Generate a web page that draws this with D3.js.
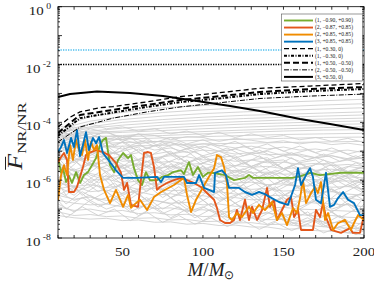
<!DOCTYPE html>
<html>
<head>
<meta charset="utf-8">
<script src="https://d3js.org/d3.v7.min.js"></script>
<style>
  body { margin: 0; background: #fff; }
  svg { display: block; font-family: "Liberation Serif", serif; }
</style>
</head>
<body>
<div id="chart"></div>
<script>
// ---- data ----
const xTickLabels = [50, 100, 150, 200];
const yLabelExp = [0, -2, -4, -6, -8];

const legendLabels = ["(1, −0.90, +0.90)", "(2, −0.87, +0.85)", "(2, +0.85, +0.85)", "(3, +0.85, +0.85)",
  "(1, +0.30, 0)", "(1, −0.30, 0)", "(1, +0.50, −0.50)", "(2, −0.50, −0.50)", "(3, +0.50, 0)"];

// horizontal reference levels
const cyanLevel = 0.0316;
const blackLevel = 0.01;

// grey background runs
const smoothM = [10, 20, 30, 50, 75, 100, 125, 150, 175, 200];
const greySmooth = [
  [5e-5, 1e-4, 1.6e-4, 2.2e-4, 3.2e-4, 3.8e-4, 4.5e-4, 5e-4, 5.6e-4, 6.3e-4],
  [4e-5, 8e-5, 1.1e-4, 1.6e-4, 2.2e-4, 2.7e-4, 3.2e-4, 3.5e-4, 4e-4, 4.4e-4],
  [3.2e-5, 6.3e-5, 9e-5, 1.25e-4, 1.65e-4, 2e-4, 2.3e-4, 2.6e-4, 2.9e-4, 3.2e-4],
  [4e-5, 5.6e-5, 7e-5, 1e-4, 1.25e-4, 1.5e-4, 1.75e-4, 1.9e-4, 2.1e-4, 2.3e-4],
  [2.5e-5, 5e-5, 6.3e-5, 8e-5, 1e-4, 1.2e-4, 1.35e-4, 1.5e-4, 1.65e-4, 1.8e-4],
  [3.2e-5, 4.5e-5, 5e-5, 6.3e-5, 8e-5, 9.3e-5, 1.07e-4, 1.2e-4, 1.3e-4, 1.4e-4],
  [2e-5, 4e-5, 4.5e-5, 5e-5, 6.3e-5, 7.6e-5, 8.7e-5, 9.5e-5, 1.05e-4, 1.12e-4],
  [2.5e-5, 3.2e-5, 4e-5, 4.5e-5, 5.2e-5, 6e-5, 6.8e-5, 7.6e-5, 8.3e-5, 8.9e-5],
  [1.6e-5, 2.5e-5, 3.2e-5, 3.5e-5, 4.2e-5, 4.8e-5, 5.4e-5, 6e-5, 6.6e-5, 7e-5],
  [2e-5, 2.8e-5, 3.2e-5, 3.2e-5, 3.5e-5, 4e-5, 4.5e-5, 5e-5, 5.4e-5, 5.6e-5],
  [1.5e-5, 2e-5, 2.3e-5, 2.6e-5, 2.9e-5, 3.2e-5, 3.5e-5, 3.8e-5, 4e-5, 4.2e-5],
  [1.2e-5, 1.6e-5, 1.8e-5, 2e-5, 2.2e-5, 2.4e-5, 2.6e-5, 2.8e-5, 3e-5, 3.1e-5],
  [1e-5, 1.3e-5, 1.4e-5, 1.5e-5, 1.6e-5, 1.8e-5, 1.9e-5, 2e-5, 2.1e-5, 2.2e-5]
];

const greyM = [10, 20, 30, 40, 50, 60, 70, 80, 90, 100, 110, 120, 130, 140, 150, 160, 170, 180, 190, 200];
const greyNoisy = [
  [8e-5, 5e-5, 9e-5, 6e-5, 7e-5, 5e-5, 6e-5, 4e-5, 5e-5, 3.5e-5, 4.5e-5, 3e-5, 4e-5, 3e-5, 3.5e-5, 2.5e-5, 3e-5, 2.2e-5, 2.8e-5, 2e-5],
  [4e-5, 7e-5, 3e-5, 5e-5, 2.5e-5, 4e-5, 2e-5, 3e-5, 1.8e-5, 2.5e-5, 1.5e-5, 2.2e-5, 1.2e-5, 1.8e-5, 1e-5, 1.5e-5, 9e-6, 1.3e-5, 8e-6, 1.1e-5],
  [2.5e-5, 1.2e-5, 3e-5, 1.5e-5, 2e-5, 1e-5, 1.6e-5, 8e-6, 1.2e-5, 7e-6, 1e-5, 6e-6, 8e-6, 5e-6, 7e-6, 4.5e-6, 6e-6, 4e-6, 5e-6, 3.5e-6],
  [1.5e-5, 2.5e-5, 8e-6, 1.6e-5, 6e-6, 1.2e-5, 5e-6, 9e-6, 4e-6, 7e-6, 3.5e-6, 6e-6, 3e-6, 5e-6, 2.5e-6, 4e-6, 2e-6, 3.5e-6, 1.8e-6, 3e-6],
  [8e-6, 4e-6, 1e-5, 5e-6, 7e-6, 3e-6, 6e-6, 2.5e-6, 5e-6, 2e-6, 4e-6, 1.8e-6, 3e-6, 1.5e-6, 2.5e-6, 1.2e-6, 2e-6, 1e-6, 1.6e-6, 9e-7],
  [5e-6, 9e-6, 3e-6, 6e-6, 2.5e-6, 4e-6, 2e-6, 3.5e-6, 1.5e-6, 3e-6, 1.2e-6, 2.2e-6, 1e-6, 1.8e-6, 8e-7, 1.5e-6, 7e-7, 1.2e-6, 6e-7, 1e-6],
  [3e-6, 1.5e-6, 4e-6, 2e-6, 3e-6, 1.2e-6, 2.5e-6, 1e-6, 2e-6, 8e-7, 1.6e-6, 7e-7, 1.3e-6, 6e-7, 1e-6, 5e-7, 9e-7, 4e-7, 7e-7, 3.5e-7],
  [1.2e-6, 2.5e-6, 8e-7, 2e-6, 7e-7, 1.5e-6, 6e-7, 1.2e-6, 5e-7, 1e-6, 4e-7, 8e-7, 3.5e-7, 7e-7, 3e-7, 6e-7, 2.5e-7, 5e-7, 2e-7, 4e-7],
  [6e-7, 3e-7, 9e-7, 4e-7, 8e-7, 3e-7, 6e-7, 2.5e-7, 5e-7, 2e-7, 4e-7, 1.6e-7, 3e-7, 1.3e-7, 2.5e-7, 1e-7, 2e-7, 8e-8, 1.6e-7, 7e-8],
  [3e-7, 6e-7, 2e-7, 4e-7, 1.5e-7, 3.5e-7, 1.2e-7, 2.5e-7, 1e-7, 2e-7, 8e-8, 1.6e-7, 7e-8, 1.3e-7, 5e-8, 1e-7, 4e-8, 8e-8, 3.5e-8, 6e-8],
  [1.5e-7, 8e-8, 2e-7, 1e-7, 1.5e-7, 6e-8, 1.2e-7, 5e-8, 1e-7, 4e-8, 8e-8, 3.5e-8, 6e-8, 3e-8, 5e-8, 2.5e-8, 4e-8, 2e-8, 3e-8, 1.8e-8],
  [2e-5, 1e-5, 1.2e-5, 6e-6, 1.5e-5, 5e-6, 8e-6, 1e-5, 4e-6, 6e-6, 8e-6, 3e-6, 5e-6, 6e-6, 2.5e-6, 4e-6, 5e-6, 2e-6, 3e-6, 2.5e-6],
  [2e-6, 5e-6, 1.5e-6, 1e-6, 3e-6, 8e-7, 2e-6, 1.5e-6, 6e-7, 1.2e-6, 9e-7, 5e-7, 1e-6, 4e-7, 7e-7, 6e-7, 3e-7, 5e-7, 2.5e-7, 3.5e-7],
  [1e-6, 4e-7, 6e-7, 1.5e-6, 3e-7, 5e-7, 8e-7, 2.5e-7, 4e-7, 6e-7, 2e-7, 3e-7, 4e-7, 1.5e-7, 2.5e-7, 1.2e-7, 2e-7, 1e-7, 1.5e-7, 8e-8],
  [6e-5, 3e-5, 4e-5, 2e-5, 3e-5, 2.5e-5, 1.5e-5, 2e-5, 1.2e-5, 1.5e-5, 1e-5, 1.2e-5, 8e-6, 1e-5, 7e-6, 8e-6, 6e-6, 7e-6, 5e-6, 6e-6],
  [4e-6, 2e-6, 2.5e-6, 6e-6, 1.5e-6, 2e-6, 4e-6, 1e-6, 1.5e-6, 3e-6, 8e-7, 1.2e-6, 2e-6, 6e-7, 1e-6, 1.5e-6, 5e-7, 8e-7, 1.2e-6, 4e-7],
  [4e-7, 2e-7, 3e-7, 1.5e-7, 3e-7, 1e-7, 2e-7, 1.5e-7, 8e-8, 1.2e-7, 6e-8, 1e-7, 5e-8, 8e-8, 4e-8, 3e-8, 5e-8, 2.5e-8, 1.5e-8, 2e-8],
  [1.2e-5, 6e-6, 2e-5, 8e-6, 1e-5, 1.4e-5, 5e-6, 8e-6, 1e-5, 4e-6, 6e-6, 7e-6, 3e-6, 4.5e-6, 5e-6, 2.5e-6, 3.5e-6, 4e-6, 2e-6, 3e-6]
];

// gently wandering grey runs on the same M grid
const greyWander = [
  [5e-5, 3.5e-5, 6e-5, 4.5e-5, 3e-5, 4e-5, 3.5e-5, 2.5e-5, 3.2e-5, 3e-5, 2.2e-5, 2.8e-5, 2.4e-5, 2e-5, 2.3e-5, 1.8e-5, 2.1e-5, 1.7e-5, 1.9e-5, 1.6e-5],
  [3e-5, 4e-5, 2.2e-5, 2.8e-5, 2.5e-5, 1.8e-5, 2.2e-5, 2e-5, 1.5e-5, 1.8e-5, 1.6e-5, 1.3e-5, 1.5e-5, 1.2e-5, 1.4e-5, 1.1e-5, 1.2e-5, 1e-5, 1.1e-5, 9e-6],
  [2e-5, 1.4e-5, 2.5e-5, 1.5e-5, 1.2e-5, 1.6e-5, 1.1e-5, 1.3e-5, 9e-6, 1.1e-5, 1e-5, 8e-6, 9e-6, 7.5e-6, 8e-6, 7e-6, 6e-6, 7e-6, 5.5e-6, 6e-6],
  [1.2e-5, 1.6e-5, 9e-6, 1e-5, 7e-6, 9e-6, 6e-6, 7e-6, 6.5e-6, 5e-6, 5.5e-6, 4.5e-6, 5e-6, 4e-6, 4.2e-6, 3.5e-6, 3.8e-6, 3.2e-6, 3.5e-6, 3e-6],
  [8e-6, 5e-6, 6e-6, 7e-6, 4.5e-6, 5e-6, 4e-6, 4.5e-6, 3.5e-6, 3.8e-6, 3e-6, 3.2e-6, 2.8e-6, 3e-6, 2.5e-6, 2.7e-6, 2.2e-6, 2.4e-6, 2e-6, 2.2e-6],
  [5e-6, 6e-6, 3.5e-6, 4e-6, 3.2e-6, 3.5e-6, 2.6e-6, 3e-6, 2.4e-6, 2.5e-6, 2e-6, 2.2e-6, 1.8e-6, 1.9e-6, 1.6e-6, 1.7e-6, 1.4e-6, 1.5e-6, 1.3e-6, 1.2e-6],
  [3e-6, 2.2e-6, 3.5e-6, 2.5e-6, 2e-6, 2.4e-6, 1.8e-6, 2e-6, 1.5e-6, 1.7e-6, 1.3e-6, 1.5e-6, 1.2e-6, 1.3e-6, 1.1e-6, 1e-6, 1.05e-6, 9e-7, 9.5e-7, 8e-7],
  [2e-6, 1.5e-6, 1.7e-6, 1.3e-6, 1.5e-6, 1.1e-6, 1.3e-6, 1e-6, 1.1e-6, 9e-7, 9.5e-7, 8e-7, 8.5e-7, 7e-7, 7.5e-7, 6.3e-7, 6.5e-7, 5.7e-7, 6e-7, 5e-7],
  [1.2e-6, 1.6e-6, 1e-6, 1.1e-6, 8e-7, 9.5e-7, 7e-7, 8e-7, 6.5e-7, 7e-7, 5.5e-7, 6e-7, 4.8e-7, 5.2e-7, 4.2e-7, 4.5e-7, 3.7e-7, 4e-7, 3.3e-7, 3e-7],
  [8e-7, 6e-7, 7e-7, 5.5e-7, 6.5e-7, 4.8e-7, 5.2e-7, 4.3e-7, 4.6e-7, 3.8e-7, 4e-7, 3.3e-7, 3.5e-7, 2.9e-7, 3e-7, 2.6e-7, 2.7e-7, 2.3e-7, 2.4e-7, 2e-7],
  [5e-7, 6.5e-7, 4e-7, 4.5e-7, 3.5e-7, 4e-7, 3e-7, 3.4e-7, 2.7e-7, 2.9e-7, 2.4e-7, 2.5e-7, 2.1e-7, 2.2e-7, 1.8e-7, 1.9e-7, 1.6e-7, 1.5e-7, 1.4e-7, 1.2e-7],
  [3e-7, 2.2e-7, 2.6e-7, 2e-7, 2.3e-7, 1.8e-7, 2e-7, 1.6e-7, 1.7e-7, 1.4e-7, 1.5e-7, 1.25e-7, 1.3e-7, 1.1e-7, 1.15e-7, 1e-7, 9.5e-8, 9e-8, 8.5e-8, 8e-8],
  [2e-7, 1.6e-7, 1.4e-7, 1.5e-7, 1.2e-7, 1.3e-7, 1.05e-7, 1.1e-7, 9e-8, 9.5e-8, 8e-8, 8.5e-8, 7e-8, 7.3e-8, 6.3e-8, 6.5e-8, 5.7e-8, 6e-8, 5.2e-8, 5e-8],
  [1.2e-7, 9e-8, 1e-7, 8e-8, 9e-8, 7e-8, 7.5e-8, 6.3e-8, 6.6e-8, 5.5e-8, 5.8e-8, 4.8e-8, 5e-8, 4.3e-8, 4.4e-8, 3.8e-8, 3.9e-8, 3.4e-8, 3.5e-8, 3e-8],
  [8e-8, 6e-8, 6.5e-8, 5.5e-8, 5.8e-8, 4.8e-8, 5e-8, 4.2e-8, 4.4e-8, 3.7e-8, 3.8e-8, 3.3e-8, 3.4e-8, 2.9e-8, 3e-8, 2.6e-8, 2.6e-8, 2.3e-8, 2.2e-8, 2e-8],
  [6e-8, 5e-8, 4.5e-8, 4.8e-8, 4e-8, 4.2e-8, 3.5e-8, 3.6e-8, 3e-8, 3.2e-8, 2.7e-8, 2.8e-8, 2.4e-8, 2.4e-8, 2e-8, 2.1e-8, 1.8e-8, 1.7e-8, 1.5e-8, 1.3e-8]
];

const greyM2 = [10, 15, 25, 35, 45, 55, 65, 75, 85, 95, 105, 115, 125, 135, 145, 155, 165, 175, 185, 195, 200];
const greyNoisy2 = [
  [3e-5, 6e-5, 2e-5, 4e-5, 1.5e-5, 3e-5, 1.2e-5, 2e-5, 1e-5, 1.6e-5, 8e-6, 1.3e-5, 7e-6, 1.1e-5, 6e-6, 9e-6, 5e-6, 8e-6, 4.5e-6, 7e-6, 5e-6],
  [1e-5, 5e-6, 1.2e-5, 6e-6, 9e-6, 4e-6, 7e-6, 3.5e-6, 6e-6, 3e-6, 5e-6, 2.5e-6, 4e-6, 2e-6, 3.5e-6, 1.8e-6, 3e-6, 1.5e-6, 2.5e-6, 1.3e-6, 2e-6],
  [5e-6, 2e-6, 6e-6, 2.5e-6, 4e-6, 1.8e-6, 3.5e-6, 1.5e-6, 3e-6, 1.2e-6, 2.5e-6, 1e-6, 2e-6, 9e-7, 1.6e-6, 8e-7, 1.4e-6, 7e-7, 1.2e-6, 6e-7, 9e-7],
  [2e-6, 4e-6, 1.2e-6, 3e-6, 1e-6, 2e-6, 8e-7, 1.6e-6, 7e-7, 1.3e-6, 6e-7, 1.1e-6, 5e-7, 9e-7, 4e-7, 8e-7, 3.5e-7, 7e-7, 3e-7, 6e-7, 4e-7],
  [8e-7, 3e-7, 1e-6, 4e-7, 8e-7, 3e-7, 7e-7, 2.5e-7, 6e-7, 2e-7, 5e-7, 1.8e-7, 4e-7, 1.5e-7, 3.5e-7, 1.2e-7, 3e-7, 1e-7, 2.5e-7, 8e-8, 1.5e-7],
  [3e-7, 1.5e-7, 4e-7, 2e-7, 3e-7, 1.2e-7, 2.5e-7, 1e-7, 2e-7, 8e-8, 1.6e-7, 6e-8, 1.3e-7, 5e-8, 1e-7, 4e-8, 8e-8, 3e-8, 6e-8, 2.5e-8, 4e-8],
  [1.5e-5, 3e-5, 1e-5, 2e-5, 8e-6, 1.5e-5, 6e-6, 1.2e-5, 5e-6, 1e-5, 4e-6, 8e-6, 3.5e-6, 7e-6, 3e-6, 6e-6, 2.5e-6, 5e-6, 2e-6, 4e-6, 3e-6],
  [4e-6, 8e-6, 3e-6, 6e-6, 2e-6, 4.5e-6, 1.5e-6, 3.5e-6, 1.2e-6, 3e-6, 1e-6, 2.5e-6, 8e-7, 2e-6, 7e-7, 1.6e-6, 6e-7, 1.3e-6, 5e-7, 1e-6, 7e-7],
  [1.5e-6, 7e-7, 2e-6, 8e-7, 1.5e-6, 6e-7, 1.2e-6, 5e-7, 1e-6, 4e-7, 8e-7, 3e-7, 7e-7, 2.5e-7, 6e-7, 2e-7, 5e-7, 1.5e-7, 4e-7, 1.2e-7, 2.5e-7],
  [5e-7, 1e-6, 3e-7, 7e-7, 2.5e-7, 5e-7, 2e-7, 4e-7, 1.5e-7, 3.5e-7, 1.2e-7, 2.5e-7, 1e-7, 2e-7, 8e-8, 1.6e-7, 6e-8, 1.2e-7, 5e-8, 1e-7, 6e-8],
  [2e-7, 1e-7, 2.5e-7, 1.2e-7, 2e-7, 8e-8, 1.5e-7, 7e-8, 1.2e-7, 5e-8, 1e-7, 4e-8, 8e-8, 3.5e-8, 6e-8, 3e-8, 5e-8, 2.5e-8, 4e-8, 2e-8, 3e-8],
  [5e-5, 2.5e-5, 4e-5, 2e-5, 3e-5, 1.6e-5, 2.5e-5, 1.3e-5, 2e-5, 1.1e-5, 1.7e-5, 1e-5, 1.5e-5, 9e-6, 1.3e-5, 8e-6, 1.1e-5, 7e-6, 1e-5, 6e-6, 8e-6],
  [7e-6, 1.5e-5, 5e-6, 1e-5, 4e-6, 7e-6, 3e-6, 6e-6, 2.5e-6, 5e-6, 2e-6, 4e-6, 1.8e-6, 3.5e-6, 1.5e-6, 3e-6, 1.3e-6, 2.5e-6, 1.1e-6, 2e-6, 1.5e-6],
  [1e-6, 2.5e-6, 7e-7, 1.8e-6, 5e-7, 1.2e-6, 4e-7, 1e-6, 3.5e-7, 8e-7, 3e-7, 6e-7, 2.5e-7, 5e-7, 2e-7, 4e-7, 1.6e-7, 3.5e-7, 1.3e-7, 3e-7, 2e-7],
  [6e-6, 3e-6, 7e-6, 3.5e-6, 5e-6, 2.5e-6, 4.5e-6, 2e-6, 4e-6, 1.8e-6, 3e-6, 1.5e-6, 2.5e-6, 1.3e-6, 2.2e-6, 1.1e-6, 2e-6, 1e-6, 1.7e-6, 9e-7, 1.2e-6],
  [1e-7, 5e-8, 1.2e-7, 6e-8, 1e-7, 4e-8, 8e-8, 3.5e-8, 6e-8, 3e-8, 5e-8, 2.5e-8, 4e-8, 2e-8, 3.5e-8, 1.8e-8, 3e-8, 1.5e-8, 2.5e-8, 1.3e-8, 1.8e-8]
];

// coloured runs: [M/Msun, F]
const green = [[10,6.3e-6],[11.9,1.8e-6],[13.1,2.6e-6],[15,8.6e-7],[16.8,1.4e-6],[18.7,8e-7],[21.2,1.9e-6],[23.7,8e-7],
  [26.1,1.5e-6],[28.6,1.9e-6],[31.1,3.3e-6],[33.6,5.8e-6],[36.1,1.65e-5],[37.9,2.45e-5],[39.8,2.9e-5],[42.3,3.3e-6],
  [44.8,1.9e-6],[47.3,5e-6],[50.4,8.7e-6],[53.5,5.8e-6],[55.3,7.4e-6],[57.2,2.6e-6],[59.7,1e-6],[62.2,6.8e-7],
  [64.6,1.9e-6],[67.1,1e-6],[71.5,1e-6],[74.6,1.3e-6],[78.3,1.5e-6],[81.4,1.9e-6],[86.4,2.2e-6],[88.2,1.65e-6],
  [91.3,4.2e-6],[93.8,1.5e-6],[96.9,2.85e-6],[100,1.3e-6],[103.1,1.8e-6],[105.6,1.8e-6],[113.7,1.5e-6],[116.8,1.2e-6],
  [119.3,1e-6],[126.1,1.2e-6],[128.6,1.5e-6],[131.1,1.2e-6],[141.6,1.2e-6],[155.3,1.2e-6],[160.3,1.35e-6],[166.5,1.8e-6],
  [172.7,1.5e-6],[185.7,1.8e-6],[200,1.8e-6]];

const red = [[10,4.2e-6],[11.9,6.3e-6],[13.7,8.7e-6],[15.6,5e-6],[16.8,3.9e-7],[19.9,3.9e-7],[21.8,5.8e-7],[25.5,2.85e-6],
  [27.4,7.4e-6],[30.5,9.4e-6],[33.6,1.1e-5],[37.9,9.4e-6],[41.7,7.4e-6],[46,3.9e-6],[49.1,1.8e-6],[51,4.6e-7],
  [52.9,8e-7],[55.3,1.4e-7],[59.7,1.2e-7],[61.5,1e-6],[63.4,8.7e-6],[65.9,9.4e-6],[67.7,8.7e-6],[69.6,2.85e-6],
  [71.5,4.6e-7],[73.3,5.8e-7],[77.7,8e-7],[82,1e-6],[86.4,1.2e-6],[90.1,1e-6],[94.4,8e-7],[98.8,5.8e-7],
  [102.5,3.6e-7],[106.9,2.1e-7],[108.7,1.1e-7],[110.6,4.2e-8],[113.7,3.3e-8],[116.8,3.3e-8],[119.3,4.2e-8],[121.1,9.3e-8],
  [123,4.2e-8],[126.1,2.1e-7],[128.6,4.2e-8],[130.5,1.2e-7],[133.6,4.2e-8],[136.7,9.3e-8],[139.8,5.4e-7],[141.6,1.2e-7],
  [144.1,2.1e-7],[146,4.2e-8],[149.1,9.3e-8],[152.2,2.1e-7],[154.7,2.6e-7],[156.6,5.3e-8],[159,9.3e-8],[160.9,1.9e-8],
  [168.3,1.9e-8],[170.2,9.3e-8],[172.7,5.3e-8],[174.5,1.6e-7],[176.4,5.3e-8],[179.5,1.9e-8],[185.7,1.5e-8],[191.3,2.2e-8],
  [193.1,1.5e-8],[197.5,1.5e-8],[200,6.2e-8]];

const orange = [[10,2.06e-7],[11.9,1.5e-6],[13.7,3.3e-6],[15.6,1.5e-6],[17.5,1.65e-5],[19.3,5e-6],[21.2,2.45e-5],[23,1.1e-5],
  [24.9,7.4e-6],[26.8,2.45e-5],[28.6,5e-6],[30.5,2.1e-5],[32.4,1.1e-5],[34.2,1.65e-5],[36.1,1.5e-6],[38.6,4.6e-7],
  [42.3,1.6e-7],[46,4.6e-7],[50.4,1.2e-7],[53.5,3.1e-7],[55.3,1.1e-7],[57.2,1.4e-7],[60.9,2.1e-7],[65.3,9.3e-8],
  [69.6,2.6e-7],[74,3.9e-7],[82,6.8e-7],[88.2,1.2e-6],[90.1,3.1e-7],[92.6,7.9e-8],[95.7,2.1e-7],[102.5,1e-6],
  [106.9,2.6e-6],[108.7,7.4e-6],[111.2,6.3e-6],[113.1,2.85e-6],[114.9,8e-7],[116.2,5.3e-8],[118,4.2e-8],[121.1,7.3e-8],
  [124.2,5.3e-8],[128.6,1.2e-7],[131.1,7.3e-8],[134.8,1.4e-7],[138.5,9.3e-8],[142.9,1.76e-7],[146,4.2e-8],[149.1,7.3e-8],
  [152.2,2.8e-8],[155.9,1.09e-7],[158.4,7.3e-8],[160.3,2.4e-7],[162.1,1e-6],[164,1.6e-7],[167.1,3.6e-7],[169.6,5.8e-7],
  [171.4,3.6e-7],[173.3,8.6e-7],[175.8,4.2e-8],[177.7,7.3e-8],[180.8,1.9e-8],[183.9,3.3e-8],[188.2,4.2e-8],[191.9,1.9e-8],
  [193.8,3.3e-8],[196.3,6.2e-8],[200,4.2e-8]];

const blue = [[10,9.4e-6],[11.9,1.4e-5],[13.7,2.45e-5],[15.6,8.7e-6],[18.1,2.9e-5],[19.9,1.4e-5],[21.8,5.4e-5],[23.7,6.8e-6],
  [25.5,1.65e-5],[27.4,4.6e-5],[29.2,1.1e-5],[31.7,2.9e-5],[33.6,1.9e-5],[35.5,3.1e-5],[37.9,8.7e-6],[42.3,4.2e-6],
  [46,2.2e-6],[50.4,1.2e-6],[58.4,1.2e-6],[71.5,1.3e-6],[74,8.6e-7],[75.8,1.3e-6],[88.2,1.3e-6],[90.1,8e-7],
  [95.7,8e-7],[97.6,1.5e-6],[100.7,5.4e-7],[103.8,4.6e-7],[106.9,3.9e-7],[107.5,1.8e-6],[111.8,2.2e-6],[114.3,1.5e-6],
  [116.2,5.4e-7],[122.4,5.4e-7],[126.1,3.9e-7],[130.5,3.1e-7],[134.8,3.9e-7],[138.5,3.3e-7],[141.6,2.6e-7],[147.2,1.76e-7],
  [152.8,1.4e-7],[157.2,6.8e-7],[159,2.6e-6],[160.9,6.8e-7],[164,1.5e-6],[166.5,2.6e-6],[168.3,1.3e-6],[170.2,2.1e-7],
  [173.3,1.6e-7],[176.4,1.8e-6],[178.9,1.2e-7],[181.4,1.4e-7],[183.9,2.4e-7],[187,3.9e-7],[190.1,2.1e-7],[193.8,1.6e-7],
  [197.5,6.2e-8],[200,6.2e-8]];

// black reference runs
const blackP30 = [[10,6.9e-5],[17.5,1.5e-4],[23.7,2.3e-4],[36,3.2e-4],[44,3.5e-4],[65,5.1e-4],[85.7,7.7e-4],[106,1e-3],[135,1.5e-3],[166.5,1.8e-3],[200,2.2e-3]];
const blackP50 = [[10,4.3e-5],[17.5,9.5e-5],[23.7,1.8e-4],[44.2,2.7e-4],[65.3,4e-4],[85.7,5.9e-4],[106.2,7.6e-4],[135.4,1.12e-3],[166.5,1.42e-3],[200,1.66e-3]];
const blackM30 = [[10,3.4e-5],[17.5,7.4e-5],[23.7,1.4e-4],[44.2,2.2e-4],[65.3,3.4e-4],[85.7,5e-4],[106.2,6.4e-4],[135.4,9.5e-4],[166.5,1.2e-3],[200,1.42e-3]];
const black2M50 = [[10,2.1e-5],[17.5,4e-5],[23.7,6.9e-5],[44.2,1.4e-4],[65.3,2.3e-4],[85.7,3.4e-4],[106.2,4.5e-4],[135.4,6.7e-4],[166.5,8.1e-4],[200,9.5e-4]];
const black3P50 = [[10,7.5e-4],[17.5,9.5e-4],[34.2,1.17e-3],[54.7,1.03e-3],[75.2,8.2e-4],[96.3,5.5e-4],[116.8,3.7e-4],[135.4,2.45e-4],[160.3,1.3e-4],[178.9,8.7e-5],[200,5.4e-5]];

// ---- drawing ----
const box = { left: 58, right: 364, top: 6.7, bottom: 238 };

const svg = d3.select("#chart").append("svg")
  .attr("width", 374)
  .attr("height", 281);

const x = d3.scaleLinear().domain([10, 200]).range([box.left, box.right]);
const y = d3.scaleLog().domain([1e-8, 1]).range([box.bottom, box.top]);

svg.append("clipPath").attr("id", "clip")
  .append("rect")
  .attr("x", box.left).attr("y", box.top)
  .attr("width", box.right - box.left).attr("height", box.bottom - box.top);

const plot = svg.append("g").attr("clip-path", "url(#clip)");
const line = d3.line().x(d => x(d[0])).y(d => y(d[1]));

function greyRun(ms, vals) {
  plot.append("path")
    .datum(vals.map((v, i) => [ms[i], v]))
    .attr("d", line)
    .attr("fill", "none")
    .attr("stroke", "#cdcdcd")
    .attr("stroke-width", 0.85);
}
greySmooth.forEach(v => greyRun(smoothM, v));
greyNoisy.forEach(v => greyRun(greyM, v));
greyWander.forEach(v => greyRun(greyM, v));
greyNoisy2.forEach(v => greyRun(greyM2, v));

// horizontal dotted levels
[[cyanLevel, "#4DBEEE"], [blackLevel, "#000"]].forEach(([lv, col]) => {
  plot.append("line")
    .attr("x1", x(10)).attr("x2", x(200))
    .attr("y1", y(lv)).attr("y2", y(lv))
    .attr("stroke", col)
    .attr("stroke-width", 1.5)
    .attr("stroke-dasharray", "1.3,1.2");
});

const styles = [
  { data: green, stroke: "#77AC30", width: 1.9, dash: null },
  { data: red, stroke: "#E3561B", width: 1.9, dash: null },
  { data: orange, stroke: "#F08C00", width: 1.9, dash: null },
  { data: blue, stroke: "#0072BD", width: 1.9, dash: null },
  { data: blackP30, stroke: "#000", width: 1.3, dash: "5,3" },
  { data: blackM30, stroke: "#000", width: 2, dash: "3,1.5,1,1.5" },
  { data: blackP50, stroke: "#000", width: 2, dash: "6,3" },
  { data: black2M50, stroke: "#000", width: 1, dash: "5,1.5,1,1.5" },
  { data: black3P50, stroke: "#000", width: 2, dash: null }
];

styles.forEach(s => {
  plot.append("path")
    .datum(s.data)
    .attr("d", line)
    .attr("fill", "none")
    .attr("stroke", s.stroke)
    .attr("stroke-width", s.width)
    .attr("stroke-dasharray", s.dash)
    .attr("stroke-linejoin", "round");
});

// axes (ticks inside, box on)
const axisG = svg.append("g").attr("fill", "none").attr("stroke", "#000").attr("stroke-width", 0.8);
axisG.append("rect")
  .attr("x", box.left).attr("y", box.top)
  .attr("width", box.right - box.left).attr("height", box.bottom - box.top);

x.ticks(19).forEach(t => {
  axisG.append("line").attr("x1", x(t)).attr("x2", x(t)).attr("y1", box.bottom).attr("y2", box.bottom - 3);
  axisG.append("line").attr("x1", x(t)).attr("x2", x(t)).attr("y1", box.top).attr("y2", box.top + 3);
});

y.ticks().forEach(t => {
  const major = Math.abs(Math.log10(t) - Math.round(Math.log10(t))) < 1e-9;
  const len = major ? 4 : 2;
  axisG.append("line").attr("x1", box.left).attr("x2", box.left + len).attr("y1", y(t)).attr("y2", y(t));
  axisG.append("line").attr("x1", box.right).attr("x2", box.right - len).attr("y1", y(t)).attr("y2", y(t));
});

// tick labels
xTickLabels.forEach(t => {
  svg.append("g")
    .attr("transform", `translate(${x(t)},255.5) scale(1.3,1)`)
    .append("text")
    .attr("text-anchor", "middle")
    .attr("font-size", 11.5)
    .attr("fill", "#222")
    .text(t);
});

yLabelExp.forEach(e => {
  const txt = svg.append("g")
    .attr("transform", `translate(51,${y(Math.pow(10, e)) + 8}) scale(1.3,1)`)
    .append("text")
    .attr("text-anchor", "end")
    .attr("fill", "#222");
  txt.append("tspan").attr("font-size", 11.5).text("10");
  txt.append("tspan").attr("font-size", 7.5).attr("dy", -6).text(" " + (e === 0 ? "0" : String(e)));
});

// axis titles
const xt = svg.append("text")
  .attr("x", 211).attr("y", 276)
  .attr("text-anchor", "middle")
  .attr("fill", "#222");
xt.append("tspan").attr("font-style", "italic").attr("font-size", 19).text("M");
xt.append("tspan").attr("font-size", 19).text("/");
xt.append("tspan").attr("font-style", "italic").attr("font-size", 19).text("M");
xt.append("tspan").attr("font-size", 11.5).attr("dy", 3).text("⊙");

const yl = svg.append("g").attr("transform", "translate(22,136) rotate(-90) scale(1.3,1)");
const yt = yl.append("text").attr("text-anchor", "middle").attr("fill", "#222");
yt.append("tspan").attr("font-style", "italic").attr("font-size", 20).text("F");
yt.append("tspan").attr("font-size", 13).attr("dy", 3.5).text("NR/NR");
yl.append("line")
  .attr("x1", -26).attr("x2", -16)
  .attr("y1", -16.5).attr("y2", -16.5)
  .attr("stroke", "#222").attr("stroke-width", 1);

// legend
const lg = svg.append("g");
lg.append("rect")
  .attr("x", 281.5).attr("y", 14)
  .attr("width", 81).attr("height", 67)
  .attr("fill", "#fff")
  .attr("stroke", "#555")
  .attr("stroke-width", 0.6);

legendLabels.forEach((lab, i) => {
  const s = styles[i];
  const yy = 20.5 + i * 7.05;
  lg.append("line")
    .attr("x1", 284).attr("x2", 313)
    .attr("y1", yy).attr("y2", yy)
    .attr("stroke", s.stroke)
    .attr("stroke-width", s.width)
    .attr("stroke-dasharray", s.dash);
  lg.append("text")
    .attr("x", 315).attr("y", yy + 1.8)
    .attr("font-size", 5.6)
    .attr("fill", "#222")
    .text(lab);
});
</script>
</body>
</html>
